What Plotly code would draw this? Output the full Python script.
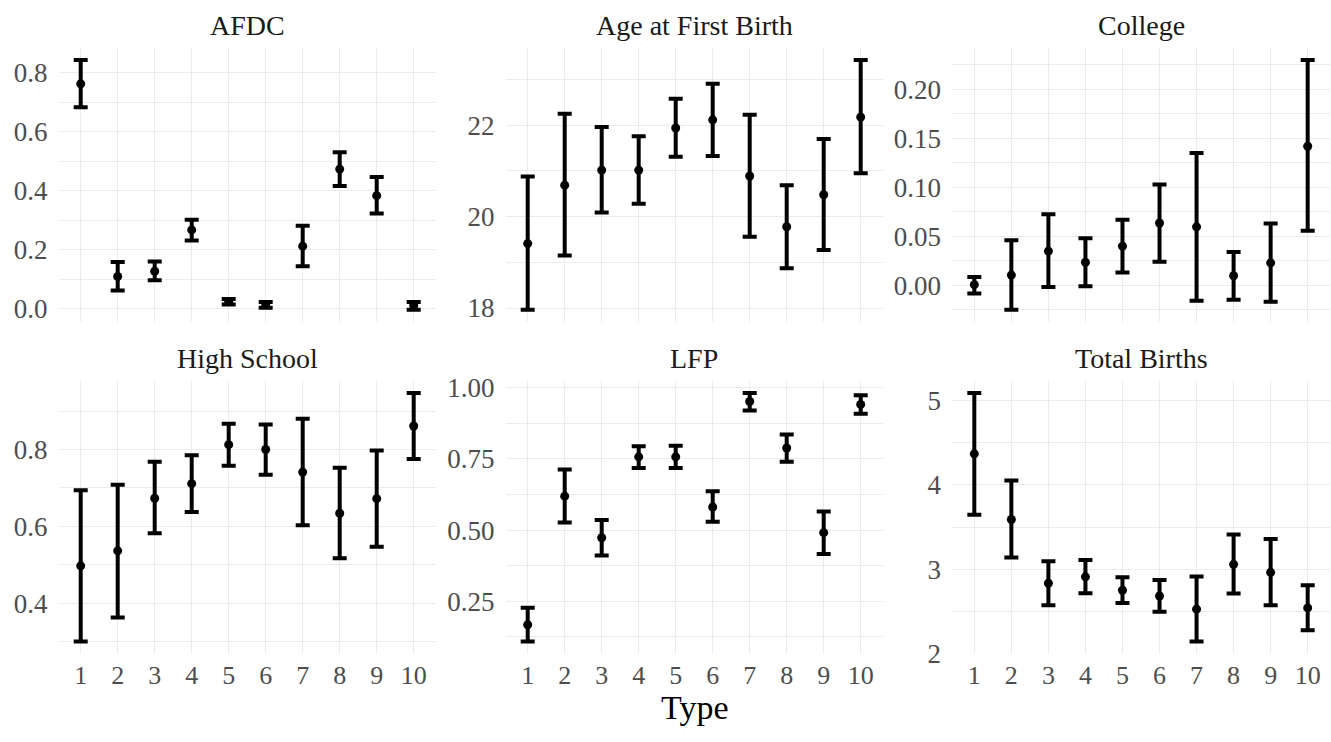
import plotly.graph_objects as go

types = [1, 2, 3, 4, 5, 6, 7, 8, 9, 10]

afdc_est = [0.762, 0.109, 0.127, 0.267, 0.024, 0.013, 0.212, 0.473, 0.383, 0.011]
afdc_lo = [0.683, 0.062, 0.096, 0.231, 0.014, 0.003, 0.144, 0.416, 0.323, -0.004]
afdc_hi = [0.843, 0.158, 0.160, 0.301, 0.033, 0.023, 0.281, 0.530, 0.446, 0.023]

age_est = [19.41, 20.69, 21.02, 21.02, 21.94, 22.12, 20.89, 19.78, 20.48, 22.18]
age_lo = [17.96, 19.15, 20.09, 20.28, 21.31, 21.33, 19.56, 18.87, 19.27, 20.95]
age_hi = [20.88, 22.25, 21.96, 21.76, 22.58, 22.91, 22.23, 20.69, 21.70, 23.43]

col_est = [0.0007, 0.0105, 0.035, 0.0236, 0.040, 0.0636, 0.0597, 0.0098, 0.023, 0.142]
col_lo = [-0.0082, -0.025, -0.0016, -0.001, 0.013, 0.024, -0.0157, -0.0148, -0.0167, 0.0557]
col_hi = [0.0085, 0.046, 0.0725, 0.048, 0.067, 0.103, 0.135, 0.034, 0.063, 0.230]

hs_est = [0.497, 0.536, 0.673, 0.711, 0.8125, 0.800, 0.741, 0.634, 0.672, 0.861]
hs_lo = [0.300, 0.3625, 0.582, 0.6375, 0.7575, 0.734, 0.6025, 0.5167, 0.5467, 0.775]
hs_hi = [0.694, 0.708, 0.768, 0.785, 0.867, 0.865, 0.880, 0.7525, 0.7975, 0.947]

lfp_est = [0.168, 0.619, 0.473, 0.757, 0.757, 0.581, 0.951, 0.788, 0.491, 0.941]
lfp_lo = [0.109, 0.527, 0.411, 0.7175, 0.7175, 0.529, 0.920, 0.740, 0.416, 0.908]
lfp_hi = [0.2276, 0.713, 0.535, 0.794, 0.796, 0.636, 0.981, 0.835, 0.565, 0.973]

tb_est = [4.369, 3.589, 2.833, 2.909, 2.749, 2.681, 2.525, 3.057, 2.962, 2.540]
tb_lo = [3.646, 3.137, 2.570, 2.715, 2.597, 2.494, 2.141, 2.711, 2.570, 2.274]
tb_hi = [5.091, 4.053, 3.095, 3.110, 2.905, 2.871, 2.913, 3.411, 3.357, 2.810]

panels = [
    ("AFDC", afdc_est, afdc_lo, afdc_hi, 0.2, 0.1, ".1f"),
    ("Age at First Birth", age_est, age_lo, age_hi, 2, 1, "d"),
    ("College", col_est, col_lo, col_hi, 0.05, 0.025, ".2f"),
    ("High School", hs_est, hs_lo, hs_hi, 0.2, 0.1, ".1f"),
    ("LFP", lfp_est, lfp_lo, lfp_hi, 0.25, 0.125, ".2f"),
    ("Total Births", tb_est, tb_lo, tb_hi, 1, 0.5, "d"),
]

W, H = 1331, 742
xdom_px = [(58.5, 435.9), (505.5, 882.9), (952.1, 1329.9)]
ydom_px = [(41.7, 325.0), (385.0, 666.7)]

FONT = "Liberation Serif"
GRID = "#EBEBEB"

fig = go.Figure()
layout = {}
annotations = []

for i, (name, est, lo, hi, dt, mdt, fmt) in enumerate(panels):
    r, c = divmod(i, 3)
    k = i + 1
    xa = "x" if k == 1 else f"x{k}"
    ya = "y" if k == 1 else f"y{k}"
    plus = [h - e for h, e in zip(hi, est)]
    minus = [e - l for e, l in zip(est, lo)]
    fig.add_trace(go.Scatter(
        x=types, y=est, mode="markers", xaxis=xa, yaxis=ya,
        marker=dict(color="black", size=9),
        error_y=dict(type="data", array=plus, arrayminus=minus, symmetric=False,
                     color="black", thickness=4, width=7),
        showlegend=False,
    ))
    lo_all, hi_all = min(lo), max(hi)
    span = hi_all - lo_all
    yr = [lo_all - 0.05 * span, hi_all + 0.05 * span]
    x0, x1 = xdom_px[c]
    yt, yb = ydom_px[r]
    xkey = "xaxis" if k == 1 else f"xaxis{k}"
    ykey = "yaxis" if k == 1 else f"yaxis{k}"
    layout[xkey] = dict(
        domain=[x0 / W, x1 / W], anchor=ya, range=[0.4, 10.6],
        tickmode="array", tickvals=types, ticktext=[str(t) for t in types],
        showticklabels=(r == 1), showgrid=True, gridcolor=GRID, gridwidth=1.3,
        zeroline=False, showline=False, ticks="",
        tickfont=dict(family=FONT, size=26, color="#4D4D4D"),
        ticklabelstandoff=3,
    )
    layout[ykey] = dict(
        domain=[1 - yb / H, 1 - yt / H], anchor=xa, range=yr,
        tick0=0, dtick=dt, tickformat=fmt,
        showgrid=True, gridcolor=GRID, gridwidth=1.3,
        minor=dict(tick0=0, dtick=mdt, showgrid=True, gridcolor=GRID, gridwidth=1.1),
        zeroline=False, showline=False, ticks="",
        tickfont=dict(family=FONT, size=27, color="#4D4D4D"),
        ticklabelstandoff=10,
    )
    annotations.append(dict(
        text=name, x=(x0 + x1) / 2 / W, y=1 - (yt - 23) / H,
        xref="paper", yref="paper", xanchor="center", yanchor="middle",
        showarrow=False, font=dict(family=FONT, size=28, color="#1A1A1A"),
    ))

annotations.append(dict(
    text="Type", x=694.7 / W, y=1 - 722 / H, xref="paper", yref="paper",
    xanchor="center", yanchor="middle", showarrow=False,
    font=dict(family=FONT, size=34, color="black"),
))

fig.update_layout(
    width=W, height=H, margin=dict(l=0, r=0, t=0, b=0),
    paper_bgcolor="white", plot_bgcolor="white",
    annotations=annotations, **layout,
)

fig.write_html("out.html")
